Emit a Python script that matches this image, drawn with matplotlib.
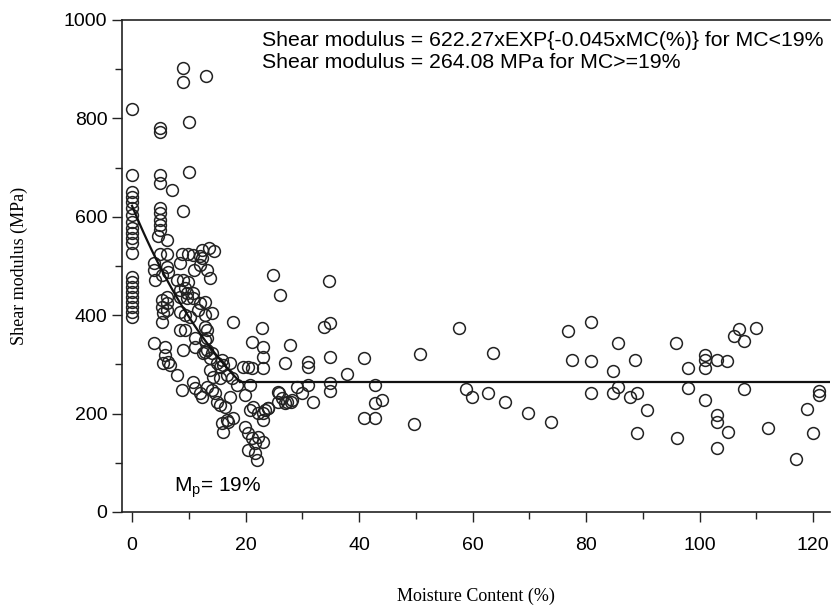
import numpy as np
import matplotlib.pyplot as plt
from matplotlib.ticker import MultipleLocator

# Data ~~~~~~~~~~~~~~~~~~~~~~~~~~~~~~~~~~~~~~~~~~~~~~~~~~~~~~~~~~~~~~~~~~~~~~~~~~
# points at MC ~ 0 %
mc_dry = [0] * 22
g_dry = [820, 684, 650, 640, 630, 617, 603, 589, 577, 566, 556, 546, 526,
         477, 467, 457, 447, 437, 426, 416, 406, 396]

# MC below ~30 %
mc_low = [9, 9, 13, 10, 5, 5, 10, 9, 5, 5, 7, 5, 5, 5, 5, 5, 4.6, 6.2,
          3.8, 3.8, 4, 5, 6.1, 8.8, 9.9, 10.8, 12, 6.1, 6.4, 5.3, 8.5, 12, 11, 13.2,
          13.7, 7.9, 9, 9.9, 9.3, 8.5, 9.7, 10.8, 6.1, 5.3, 6.1, 5.3, 6.1, 5.5, 5.3,
          8.5, 9.7, 10.8, 12, 12.9, 11.7, 14.1, 12.9, 8.5, 9.3, 10.2, 8.5, 9.3, 11.1,
          13.2, 13.2, 17.8, 22.9, 24.8, 26, 3.8, 5.8, 5.8, 6.4, 5.5, 6.7, 7.9, 9,
          11.1, 12.5, 13.2, 13.7, 15, 15.5, 16, 17.3, 13.7, 14.3, 15.5, 16.7, 17.6,
          8.8, 10.8, 11.1, 12, 12.3, 13.2, 14.1, 14.6, 15, 15.5, 16.4, 17.3, 17.8,
          15.8, 16, 16.7, 16.9, 18.5, 19.9, 19.5, 20.4, 21.1, 23, 23, 23, 21.1, 27,
          27.8, 20.8, 20.8, 21.3, 22.2, 23.4, 23.9, 23, 19.9, 20.4, 21.1, 21.7, 22.2,
          23, 20.4, 21.7, 22, 25.7, 26.4, 27.3, 28.2, 29,
          12.3, 12.3, 12.9, 12.9, 12.9, 14.1, 15.9, 13.5, 14.4, 24, 23]
g_low = [902, 873, 886, 792, 780, 772, 690, 612, 684, 668, 654, 617, 607, 593, 583, 573, 560, 552,
         507, 491, 471, 525, 525, 525, 525, 523, 520, 498, 488, 481, 505, 501, 491, 491,
         475, 471, 471, 467, 455, 451, 445, 445, 437, 430, 424, 416, 410, 404, 386,
         437, 435, 435, 424, 426, 410, 404, 400, 406, 400, 396, 370, 370, 353,
         353, 370, 386, 374, 481, 441, 343, 335, 319, 305, 303, 298, 278, 329,
         335, 323, 329, 313, 303, 294, 298, 303, 288, 274, 272, 278, 272,
         248, 264, 252, 242, 234, 254, 248, 242, 223, 217, 213, 234, 191,
         181, 162, 187, 183, 258, 238, 294, 294, 345, 335, 315, 292, 292, 303,
         339, 258, 207, 213, 201, 207, 211, 187, 173, 160, 150, 140, 152,
         142, 126, 120, 106, 244, 231, 223, 227, 254,
         532, 516, 376, 349, 325, 323, 309, 537, 530, 211, 201]

# MC above ~30 %
mc_wet = [34.7, 33.8, 34.9, 34.9, 40.8, 31, 31, 37.8, 50.7, 57.7, 63.6, 34.9, 34.9,
          31, 29.9, 25.9, 25.7, 27, 28, 31.9, 42.8, 42.8, 44, 40.8, 42.8, 49.6, 58.8,
          59.9, 62.7, 65.8, 69.7,
          76.8, 80.8, 77.6, 80.8, 85.7, 84.7, 88.7, 80.8, 84.7, 85.7, 87.8, 88.9, 90.8,
          95.9, 97.9, 97.9, 100.9, 100.9, 100.9, 103, 104.9, 106, 106.9, 107.9, 110,
          100.9, 103, 103, 107.9, 119, 121, 121, 73.8, 112,
          89, 96, 103, 105, 117, 120]
g_wet = [469, 376, 384, 315, 313, 305, 294, 280, 321, 374, 323, 262, 246,
         258, 242, 242, 223, 221, 223, 223, 258, 221, 227, 191, 191, 179, 250,
         234, 242, 223, 201,
         368, 386, 309, 307, 343, 286, 309, 242, 242, 254, 234, 242, 207,
         343, 292, 252, 319, 309, 292, 309, 307, 357, 372, 347, 374,
         227, 197, 183, 250, 209, 246, 238, 183, 170,
         160, 150, 130, 163, 108, 160]

mc = np.array(mc_dry + mc_low + mc_wet)
g = np.array(g_dry + g_low + g_wet)

# fitted model
a, b = 622.27, -0.045
mp = 19
g_plateau = 264.08

# Plot ~~~~~~~~~~~~~~~~~~~~~~~~~~~~~~~~~~~~~~~~~~~~~~~~~~~~~~~~~~~~~~~~~~~~~~~~~~~
fig = plt.figure(figsize=(8.37, 6.10), dpi=100)
ax = fig.add_axes([0.1458, 0.1607, 0.8459, 0.8066])

ax.plot(mc, g, 'o', ms=8.5, mfc='none', mec='#222222', mew=1.1)

x1 = np.linspace(0, mp, 100)
ax.plot(x1, a * np.exp(b * x1), color='#111111', lw=1.6)
ax.plot([mp, 123], [g_plateau, g_plateau], color='#111111', lw=1.6)

ax.set_xlim(-1.76, 123)
ax.set_ylim(0, 1000)
ax.xaxis.set_major_locator(MultipleLocator(20))
ax.xaxis.set_minor_locator(MultipleLocator(10))
ax.yaxis.set_major_locator(MultipleLocator(200))
ax.yaxis.set_minor_locator(MultipleLocator(100))
ax.tick_params(which='both', direction='out', labelsize=14, color='#222222')
ax.tick_params(which='major', length=7, width=1)
ax.tick_params(which='minor', length=5, width=1)
ax.tick_params(axis='x', which='both', pad=11)
for lab in ax.get_xticklabels() + ax.get_yticklabels():
    lab.set_fontfamily('Liberation Sans')
ax.spines['right'].set_visible(False)
for s in ['left', 'bottom', 'top']:
    ax.spines[s].set_color('#222222')
    ax.spines[s].set_linewidth(1.2)

ax.set_xlabel('Moisture Content (%)', family='Liberation Serif', fontsize=13, labelpad=24)
ax.set_ylabel('Shear modulus (MPa)', family='Liberation Serif', fontsize=13, labelpad=26)

ax.text(22.9, 958, 'Shear modulus = 622.27xEXP{-0.045xMC(%)} for MC<19%',
        family='Liberation Sans', fontsize=15.3, va='center')
ax.text(22.9, 914, 'Shear modulus = 264.08 MPa for MC>=19%',
        family='Liberation Sans', fontsize=15.3, va='center')
ax.text(7.4, 50, r'M$_\mathregular{p}$= 19%', family='Liberation Sans', fontsize=15, va='center')

plt.savefig('out.png')
